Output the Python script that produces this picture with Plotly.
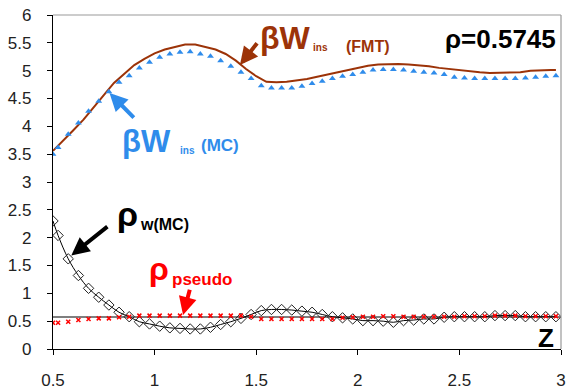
import plotly.graph_objects as go

# ---- data ----
z_mc = [0.5, 0.525, 0.575, 0.625, 0.675, 0.725, 0.775, 0.825, 0.875, 0.925, 0.975,
        1.025, 1.075, 1.125, 1.175, 1.225, 1.275, 1.325, 1.375, 1.425, 1.475,
        1.525, 1.575, 1.625, 1.675, 1.725, 1.775, 1.825, 1.875, 1.925, 1.975,
        2.025, 2.075, 2.125, 2.175, 2.225, 2.275, 2.325, 2.375, 2.425, 2.475,
        2.525, 2.575, 2.625, 2.675, 2.725, 2.775, 2.825, 2.875, 2.925, 2.975]

bw_mc = [3.50, 3.62, 3.86, 4.06, 4.27, 4.45, 4.62, 4.79, 4.91, 5.05, 5.15,
         5.24, 5.30, 5.33, 5.34, 5.30, 5.26, 5.18, 5.08, 4.97, 4.86,
         4.73, 4.69, 4.69, 4.69, 4.72, 4.77, 4.81, 4.86, 4.90, 4.93,
         4.97, 5.01, 5.02, 5.02, 5.01, 4.99, 4.97, 4.96, 4.93, 4.88,
         4.87, 4.86, 4.86, 4.86, 4.86, 4.86, 4.87, 4.88, 4.90, 4.91]

rho_w_mc = [2.30, 2.04, 1.62, 1.32, 1.09, 0.93, 0.79, 0.66, 0.58, 0.49, 0.45,
            0.41, 0.38, 0.37, 0.36, 0.36, 0.39, 0.44, 0.49, 0.55, 0.62,
            0.69, 0.71, 0.71, 0.70, 0.68, 0.66, 0.62, 0.58, 0.56, 0.54,
            0.51, 0.51, 0.50, 0.48, 0.51, 0.52, 0.54, 0.54, 0.57, 0.58,
            0.58, 0.58, 0.58, 0.60, 0.60, 0.60, 0.58, 0.58, 0.58, 0.58]

rho_pseudo = [0.47, 0.47, 0.49, 0.52, 0.54, 0.55, 0.55, 0.57, 0.58, 0.60, 0.60,
              0.60, 0.60, 0.60, 0.60, 0.60, 0.60, 0.60, 0.60, 0.60, 0.58,
              0.54, 0.54, 0.54, 0.54, 0.54, 0.54, 0.54, 0.54, 0.56, 0.57,
              0.58, 0.58, 0.59, 0.59, 0.58, 0.58, 0.58, 0.58, 0.58, 0.58,
              0.59, 0.59, 0.59, 0.60, 0.60, 0.60, 0.59, 0.59, 0.59, 0.59]

z_fmt = [0.50, 0.55, 0.60, 0.65, 0.70, 0.75, 0.80, 0.85, 0.90, 0.95, 1.00,
         1.05, 1.10, 1.15, 1.20, 1.25, 1.30, 1.35, 1.40, 1.45, 1.50,
         1.55, 1.60, 1.65, 1.70, 1.75, 1.80, 1.85, 1.90, 1.95, 2.00,
         2.05, 2.10, 2.15, 2.20, 2.25, 2.30, 2.35, 2.40, 2.45, 2.50,
         2.55, 2.60, 2.65, 2.70, 2.75, 2.80, 2.85, 2.90, 2.95, 2.975]
bw_fmt = [3.56, 3.74, 3.93, 4.12, 4.33, 4.56, 4.78, 4.94, 5.10, 5.21, 5.31,
          5.38, 5.43, 5.47, 5.47, 5.43, 5.38, 5.30, 5.18, 5.03, 4.90,
          4.80, 4.79, 4.80, 4.82, 4.85, 4.89, 4.93, 4.97, 5.02, 5.05,
          5.09, 5.11, 5.12, 5.12, 5.11, 5.10, 5.08, 5.05, 5.03, 5.00,
          4.98, 4.97, 4.96, 4.96, 4.96, 4.97, 5.00, 5.01, 5.01, 5.01]

bulk_rho = 0.5745
z_range = [0.5, 3.0]
x_ticks = [0.5, 1, 1.5, 2, 2.5, 3]
x_tick_text = ["0.5", "1", "1.5", "2", "2.5", "3"]
y_ticks = [0, 0.5, 1, 1.5, 2, 2.5, 3, 3.5, 4, 4.5, 5, 5.5, 6]
y_tick_text = ["0", "0.5", "1", "1.5", "2", "2.5", "3", "3.5", "4", "4.5", "5", "5.5", "6"]

BROWN = "#9C3308"
BLUE = "#2F8CEB"
RED = "#FF0000"
FONT = "Arial, Liberation Sans, sans-serif"

fig = go.Figure()

fig.add_trace(go.Scatter(x=z_range, y=[bulk_rho, bulk_rho], mode="lines",
                         line=dict(color="black", width=1.2), hoverinfo="skip"))
fig.add_trace(go.Scatter(x=z_mc, y=rho_w_mc, mode="lines+markers",
                         line=dict(color="black", width=1, shape="spline"),
                         marker=dict(symbol="diamond-open", size=8, color="#222",
                                     line=dict(width=1))))
fig.add_trace(go.Scatter(x=z_mc, y=rho_pseudo, mode="markers",
                         marker=dict(symbol="x-thin", size=4, color=RED,
                                     line=dict(width=1.5, color=RED))))
fig.add_trace(go.Scatter(x=z_fmt, y=bw_fmt, mode="lines",
                         line=dict(color=BROWN, width=2)))
fig.add_trace(go.Scatter(x=z_mc, y=bw_mc, mode="markers",
                         marker=dict(symbol="triangle-up", size=6, color=BLUE)))

ann = []
def txt(x, y, t, size, color, xanchor="left", yanchor="middle", bold=True):
    ann.append(dict(x=x, y=y, xref="x", yref="y", text=("<b>%s</b>" % t) if bold else t,
                    showarrow=False, xanchor=xanchor, yanchor=yanchor,
                    font=dict(family=FONT, size=size, color=color)))

def arrow(x0, y0, x1, y1, color, width):
    ann.append(dict(x=x1, y=y1, ax=x0, ay=y0, xref="x", yref="y", axref="x", ayref="y",
                    text="", showarrow=True, arrowhead=2, arrowsize=0.9,
                    arrowwidth=width, arrowcolor=color))

# FMT label
txt(1.51, 5.58, "βW", 32, BROWN)
txt(1.77, 5.41, "ins", 10, BROWN)
txt(1.93, 5.43, "(FMT)", 16, BROWN)
arrow(1.51, 5.52, 1.42, 5.10, BROWN, 4)

# MC label
txt(0.83, 3.72, "βW", 31, BLUE)
txt(1.115, 3.57, "ins", 10, BLUE)
txt(1.22, 3.65, "(MC)", 17, BLUE)
arrow(0.905, 4.13, 0.778, 4.60, BLUE, 4)

# rho_w label
txt(0.805, 2.43, "ρ", 34, "black")
txt(0.92, 2.24, "w(MC)", 16, "black")
arrow(0.775, 2.22, 0.59, 1.68, "black", 4)

# rho pseudo label
txt(0.965, 1.43, "ρ", 32, RED)
txt(1.075, 1.24, "pseudo", 17, RED)
arrow(1.175, 1.09, 1.14, 0.61, RED, 4)

# density text and z label
txt(2.42, 5.57, "ρ=0.5745", 26, "black")
txt(2.975, 0.20, "Z", 26, "black", xanchor="right")

fig.update_layout(
    width=567, height=391,
    margin=dict(l=53, r=1, t=15, b=39),
    paper_bgcolor="white", plot_bgcolor="white",
    showlegend=False,
    annotations=ann,
    font=dict(family=FONT, size=17, color="#222"),
    shapes=[
        dict(type="line", xref="paper", yref="paper", x0=0, x1=1, y0=1, y1=1,
             line=dict(color="#999", width=1.2)),
        dict(type="line", xref="paper", yref="paper", x0=1, x1=1, y0=0, y1=1,
             line=dict(color="#999", width=1.2)),
    ],
)
fig.update_xaxes(range=z_range, tickvals=x_ticks, ticktext=x_tick_text,
                 showgrid=False, zeroline=False, showline=True, linecolor="black",
                 linewidth=1.2, ticks="outside", ticklen=5, tickcolor="black",
                 ticklabelstandoff=10, ticklabeloverflow="allow",
                 tickfont=dict(size=17, color="#222"))
fig.update_yaxes(range=[0, 6], tickvals=y_ticks, ticktext=y_tick_text,
                 showgrid=False, zeroline=False, showline=True, linecolor="black",
                 linewidth=1.2, ticks="outside", ticklen=5, tickcolor="black",
                 ticklabelstandoff=12, tickfont=dict(size=17, color="#222"))

fig.write_html("out.html")
